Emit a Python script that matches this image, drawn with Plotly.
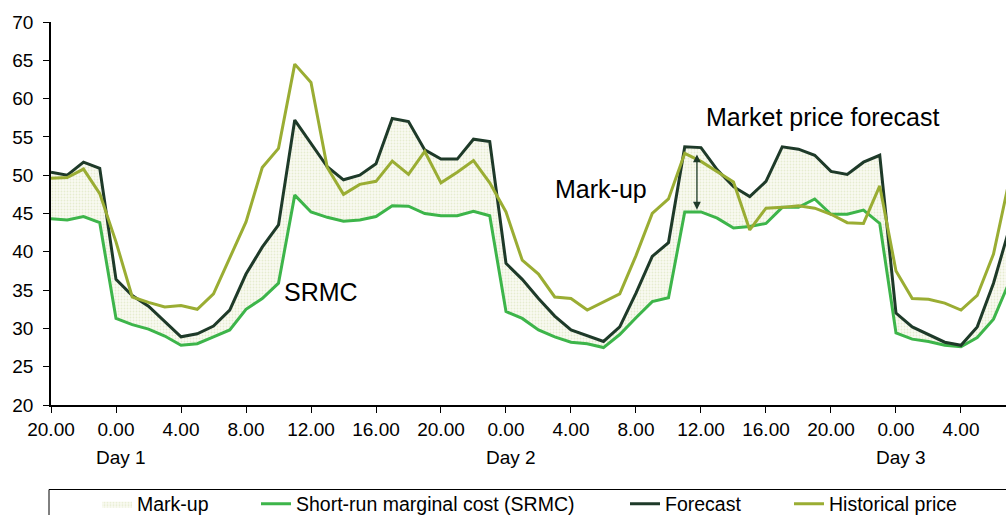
import plotly.graph_objects as go

# Hours relative to Day 1 00:00 (20.00 of the previous day = -4)
hours = list(range(-4, 56))

historical = [49.6, 49.7, 50.8, 47.6,
              41.3, 34.1, 33.4, 32.8, 33.0, 32.5, 34.5, 39.2, 43.9, 51.0, 53.5, 64.5,
              62.1, 51.0, 47.5, 48.8, 49.2, 51.85, 50.1, 53.1, 49.0, 50.4, 51.9, 49.0,
              45.2, 38.9, 37.1, 34.1, 33.9, 32.4, 33.5, 34.5, 39.5, 45.0, 46.9, 52.85,
              51.8, 50.5, 49.1, 42.85, 45.7, 45.8, 46.0, 45.7, 44.9, 43.8, 43.7, 48.6,
              37.5, 33.9, 33.8, 33.3, 32.4, 34.3, 39.7, 49.6]

srmc = [44.3, 44.15, 44.6, 43.8,
        31.3, 30.5, 29.9, 29.0, 27.8, 28.0, 28.9, 29.8, 32.5, 33.9, 35.9, 47.4,
        45.2, 44.5, 44.0, 44.15, 44.6, 46.0, 45.95, 45.0, 44.7, 44.7, 45.3, 44.7,
        32.2, 31.3, 29.8, 28.9, 28.2, 28.0, 27.5, 29.2, 31.4, 33.5, 34.0, 45.2,
        45.2, 44.4, 43.1, 43.3, 43.7, 45.8, 45.8, 46.9, 44.9, 44.9, 45.45, 43.7,
        29.4, 28.6, 28.3, 27.8, 27.6, 28.8, 31.2, 36.2]

forecast = [50.4, 50.0, 51.7, 50.9,
            36.4, 34.3, 32.9, 30.9, 28.9, 29.3, 30.3, 32.4, 37.1, 40.6, 43.5, 57.2,
            54.2, 51.1, 49.4, 50.0, 51.5, 57.4, 57.0, 53.3, 52.1, 52.1, 54.7, 54.4,
            38.5, 36.4, 33.9, 31.6, 29.8, 29.1, 28.3, 30.2, 34.6, 39.4, 41.2, 53.7,
            53.6, 50.7, 48.5, 47.2, 49.2, 53.7, 53.4, 52.6, 50.5, 50.1, 51.7, 52.6,
            32.0, 30.2, 29.2, 28.2, 27.8, 30.2, 35.9, 43.2]

tick_vals = list(range(-4, 53, 4))
tick_text = ["20.00", "0.00", "4.00", "8.00", "12.00", "16.00",
             "20.00", "0.00", "4.00", "8.00", "12.00", "16.00",
             "20.00", "0.00", "4.00"]

day_labels = ["Day 1", "Day 2", "Day 3"]
day_hours = [0, 24, 48]

names = ["Mark-up", "Short-run marginal cost (SRMC)", "Forecast", "Historical price"]

C_SRMC = "#3db54a"
C_FC = "#1e3a29"
C_HIST = "#9aad33"
FONT = "Liberation Sans, Arial, sans-serif"

fig = go.Figure()

# baseline for the mark-up band
fig.add_trace(go.Scatter(x=hours, y=srmc, mode="lines", line=dict(width=0, color=C_SRMC),
                         showlegend=False, hoverinfo="skip"))
fig.add_trace(go.Scatter(x=hours, y=forecast, mode="lines", fill="tonexty",
                         line=dict(width=0, color=C_FC),
                         fillcolor="#f4f6e8",
                         fillpattern=dict(shape=".", fgcolor="#d3ddae", bgcolor="#f9faf2",
                                          size=3, solidity=0.3),
                         name=names[0], legend="legend", hoverinfo="skip"))
fig.add_trace(go.Scatter(x=hours, y=srmc, mode="lines", line=dict(width=3, color=C_SRMC),
                         name=names[1], legend="legend2"))
fig.add_trace(go.Scatter(x=hours, y=forecast, mode="lines", line=dict(width=3, color=C_FC),
                         name=names[2], legend="legend3"))
fig.add_trace(go.Scatter(x=hours, y=historical, mode="lines", line=dict(width=3, color=C_HIST),
                         name=names[3], legend="legend4"))

L, R, T, B = 51, 0, 22, 110
W, H = 1006, 515
pw = W - L - R
ph = H - T - B


def px_x(p):
    return (p - L) / pw


def px_y(p):
    return (H - B - p) / ph


leg_common = dict(orientation="h", xanchor="left", yanchor="middle", y=px_y(504),
                  bgcolor="rgba(0,0,0,0)", borderwidth=0, itemwidth=30,
                  font=dict(family=FONT, size=19.5, color="black"))

annotations = [
    dict(x=43.5, y=57.6, text="Market price forecast", showarrow=False,
         xanchor="center", yanchor="middle", font=dict(family=FONT, size=25, color="black")),
    dict(x=29.85, y=48.2, text="Mark-up", showarrow=False,
         xanchor="center", yanchor="middle", font=dict(family=FONT, size=25, color="black")),
    dict(x=12.6, y=34.7, text="SRMC", showarrow=False,
         xanchor="center", yanchor="middle", font=dict(family=FONT, size=25, color="black")),
    dict(x=35.75, y=45.5, ax=35.75, ay=52.9, xref="x", yref="y", axref="x", ayref="y",
         text="", showarrow=True, arrowhead=2, arrowside="end+start", arrowsize=1.2,
         arrowwidth=1.3, arrowcolor=C_FC),
]
for lab, h in zip(day_labels, day_hours):
    annotations.append(dict(x=h + 0.3, y=px_y(457), xref="x", yref="paper", text=lab,
                            showarrow=False, xanchor="center", yanchor="middle",
                            font=dict(family=FONT, size=19, color="black")))

fig.update_layout(
    width=W, height=H,
    margin=dict(l=L, r=R, t=T, b=B, autoexpand=False),
    paper_bgcolor="white", plot_bgcolor="white",
    font=dict(family=FONT, color="black"),
    xaxis=dict(range=[-4, 54.77], tickmode="array", tickvals=tick_vals, ticktext=tick_text,
               ticks="outside", ticklen=6, tickcolor="black", tickwidth=1,
               showline=True, linecolor="black", linewidth=1.5,
               showgrid=False, zeroline=False, automargin=False,
               tickfont=dict(family=FONT, size=19, color="black")),
    yaxis=dict(range=[20, 70], dtick=5, tick0=20, ticks="outside", ticklen=6,
               tickcolor="black", tickwidth=1, ticklabelstandoff=6,
               showline=True, linecolor="black", linewidth=1.5,
               showgrid=False, zeroline=False, automargin=False,
               tickfont=dict(family=FONT, size=19, color="black")),
    legend=dict(x=px_x(97), **leg_common),
    legend2=dict(x=px_x(256), **leg_common),
    legend3=dict(x=px_x(625), **leg_common),
    legend4=dict(x=px_x(789), **leg_common),
    annotations=annotations,
    shapes=[dict(type="rect", xref="paper", yref="paper",
                 x0=px_x(49), x1=px_x(1012), y0=px_y(522), y1=px_y(489.5),
                 line=dict(color="black", width=1), fillcolor="rgba(0,0,0,0)", layer="above")],
)

fig.write_html(
    "out.html",
    config={"displayModeBar": False},
    post_script=("document.body.style.margin='0';"
                 "document.body.style.overflow='hidden';"
                 "document.documentElement.style.overflow='hidden';"),
)
